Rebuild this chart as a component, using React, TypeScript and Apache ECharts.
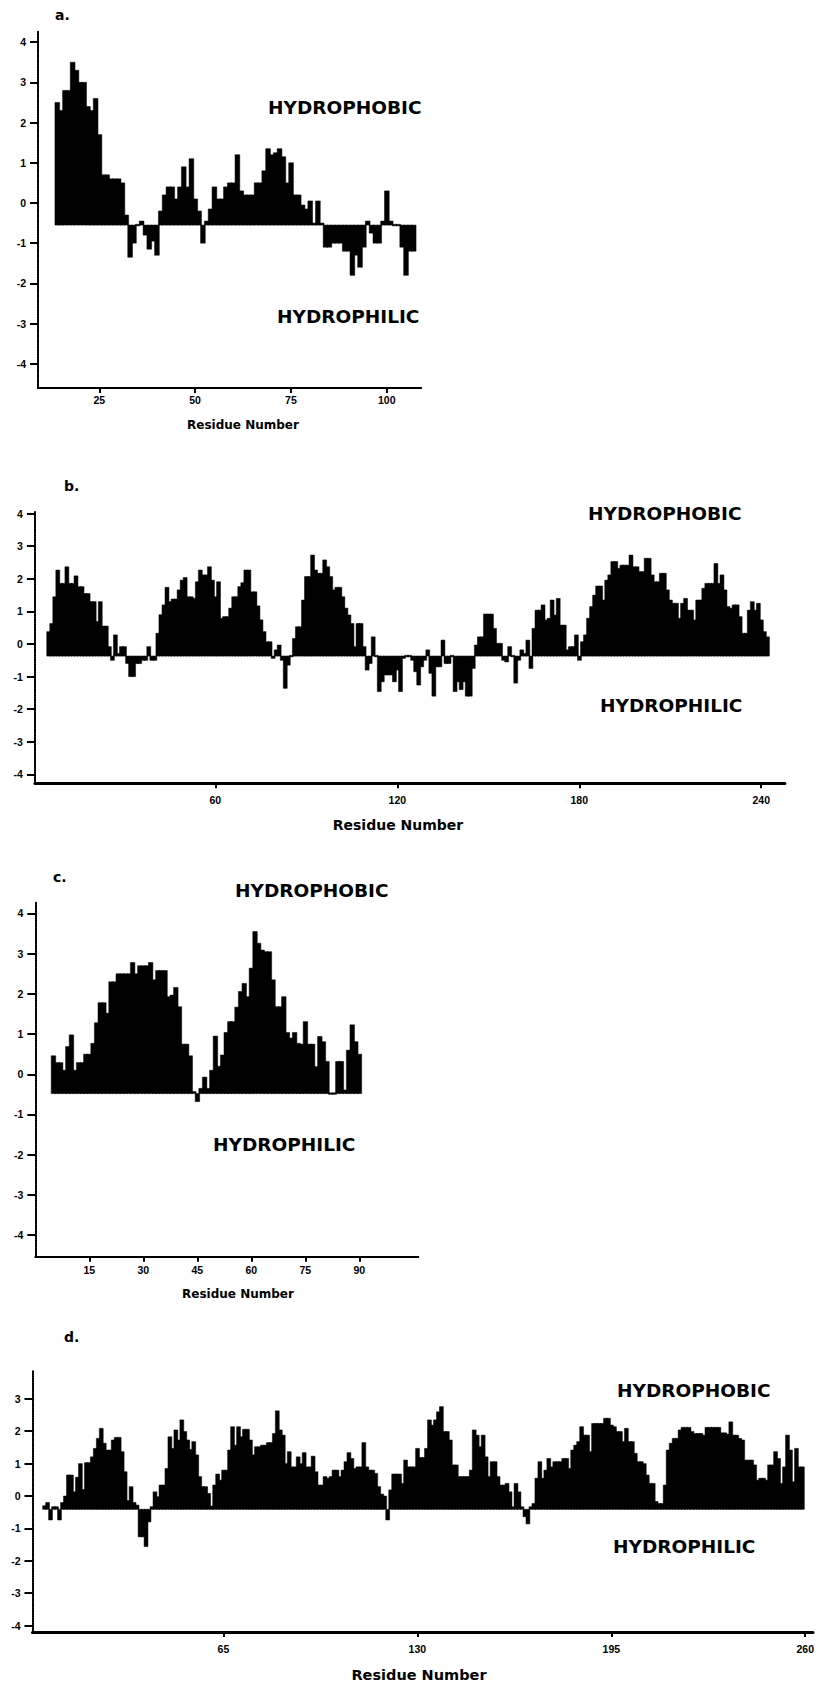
import React, { useEffect, useRef } from 'react';
import * as echarts from 'echarts';

// ---------- data (hydropathy values per residue) ----------
const aStart = 14;
const aValues = [
  2.5, 2.3, 2.8, 2.8, 3.5, 3.3, 3.0, 3.0, 2.4, 2.3, 2.6, 1.7, 0.7, 0.7, 0.6, 0.6, 0.6, 0.5, -0.3, -1.35,
  -1.0, -0.55, -0.45, -0.8, -1.15, -0.95, -1.3, -0.2, 0.2, 0.4, 0.4, 0.1, 0.4, 0.9, 0.4, 1.1, 0.1, -0.2, -1.0, -0.45,
  -0.15, 0.4, 0.1, 0.1, 0.4, 0.5, 0.5, 1.2, 0.3, 0.2, 0.2, 0.2, 0.5, 0.5, 0.8, 1.35, 1.2, 1.25, 1.35, 1.15,
  0.5, 1.0, 0.2, 0.2, -0.05, -0.15, 0.05, -0.5, 0.05, -0.5, -1.1, -1.1, -1.0, -1.0, -1.0, -1.2, -1.2, -1.8, -1.3, -1.6,
  -1.1, -0.45, -0.75, -1.0, -1.0, -0.45, 0.3, -0.45, -0.55, -0.55, -1.1, -1.8, -1.2, -1.2,
];
const aBaseline = -0.55;

const bStart = 5;
const bValues = [
  0.38, 0.63, 1.45, 2.27, 1.86, 1.86, 2.37, 1.86, 1.86, 2.09, 1.76, 1.76, 1.55, 1.55, 1.3, 1.3, 0.69, 1.3, 0.55, 0.55,
  -0.08, -0.5, 0.28, -0.29, -0.08, -0.08, -0.6, -1.0, -1.0, -0.6, -0.6, -0.5, -0.5, -0.08, -0.5, -0.5, 0.33, 0.9, 1.2, 1.74,
  1.3, 1.38, 1.38, 1.66, 1.96, 2.04, 1.45, 1.45, 1.4, 1.91, 2.27, 2.12, 2.12, 2.37, 1.96, 1.45, 1.91, 0.79, 0.84, 0.84,
  1.1, 1.45, 1.45, 1.76, 1.88, 2.27, 2.27, 1.6, 1.6, 1.17, 0.74, 0.38, 0.07, 0.07, -0.44, -0.18, -0.03, -0.5, -1.36, -0.65,
  -0.39, 0.17, 0.53, 0.53, 1.35, 2.07, 2.07, 2.73, 2.27, 2.17, 2.17, 2.58, 2.37, 2.07, 1.66, 1.74, 1.74, 1.45, 1.1, 0.89,
  0.63, -0.08, 0.63, 0.63, -0.08, -0.8, -0.6, 0.22, -0.39, -1.46, -1.16, -0.95, -0.95, -0.95, -1.16, -0.8, -1.46, -0.44, -0.39, -0.39,
  -0.5, -0.85, -1.26, -0.7, -0.5, -0.18, -0.9, -1.6, -0.7, -0.7, 0.12, -0.6, -0.6, -0.39, -1.46, -1.16, -1.4, -1.16, -1.6, -1.6,
  -0.75, -0.03, 0.22, 0.22, 0.92, 0.92, 0.92, 0.48, 0.02, 0.02, -0.5, -0.55, -0.08, -0.39, -1.2, -0.5, -0.18, -0.29, 0.12, -0.75,
  0.48, 1.04, 1.04, 1.2, 0.74, 0.79, 1.35, 0.89, 1.4, 0.58, 0.58, -0.18, -0.08, -0.08, 0.28, -0.5, 0.07, 0.28, 0.79, 1.15,
  1.5, 1.78, 1.78, 1.35, 1.96, 2.12, 2.53, 2.53, 2.32, 2.42, 2.42, 2.42, 2.73, 2.37, 2.37, 2.22, 2.22, 2.63, 2.63, 2.12,
  1.91, 1.91, 2.17, 2.17, 1.66, 1.35, 1.25, 1.25, 0.79, 1.25, 1.4, 1.04, 1.04, 0.74, 1.35, 1.35, 1.71, 1.86, 1.86, 1.86,
  2.47, 1.86, 2.12, 1.66, 1.15, 1.1, 1.2, 1.2, 0.84, 0.33, 0.33, 1.04, 1.3, 1.04, 1.25, 0.74, 0.38, 0.22,
];
const bBaseline = -0.37;

const cStart = 5;
const cValues = [
  0.46, 0.29, 0.29, 0.1, 0.69, 0.98, 0.1, 0.29, 0.29, 0.5, 0.5, 0.77, 1.28, 1.78, 1.78, 1.52, 2.3, 2.3, 2.5, 2.5,
  2.5, 2.5, 2.78, 2.5, 2.7, 2.7, 2.7, 2.78, 2.35, 2.58, 2.58, 2.58, 1.93, 1.97, 2.16, 1.68, 0.75, 0.75, 0.46, -0.43,
  -0.68, -0.35, -0.07, -0.35, 0.1, 0.95, 0.2, 0.48, 1.04, 1.31, 1.31, 1.67, 2.06, 2.26, 1.93, 2.64, 3.55, 3.26, 3.09, 3.05,
  3.05, 2.35, 1.68, 1.68, 1.93, 1.04, 0.9, 1.04, 0.77, 0.75, 1.31, 0.75, 0.75, 0.19, 0.94, 0.81, 0.32, -0.47, -0.5, 0.32,
  0.32, -0.39, 0.6, 1.23, 0.81, 0.5,
];
const cBaseline = -0.48;

const dStart = 5;
const dValues = [
  -0.3, -0.2, -0.74, -0.33, -0.33, -0.74, -0.2, 0, 0.65, 0.65, 0.13, 0.58, 1.0, 0.2, 1.03, 1.03, 1.21, 1.47, 1.78, 2.09,
  1.63, 1.42, 1.42, 1.73, 1.81, 1.81, 1.37, 0.75, -0.14, 0.29, -0.2, -0.28, -1.26, -1.26, -1.56, -0.8, -0.33, 0.13, -0.02, 0.34,
  0.34, 0.85, 1.83, 1.47, 2.04, 1.73, 2.35, 1.99, 1.73, 1.44, 1.68, 1.27, 0.6, 0.29, 0.29, 0.08, -0.31, 0.34, 0.68, 0.49,
  0.8, 0.8, 1.42, 2.14, 1.57, 2.14, 1.83, 2.06, 2.06, 1.73, 1.27, 1.52, 1.52, 1.57, 1.57, 1.65, 1.65, 1.93, 2.63, 2.04,
  1.88, 1.0, 1.37, 0.9, 0.9, 1.21, 1.0, 1.34, 0.9, 0.9, 1.23, 0.75, 0.34, 0.34, 0.6, 0.55, 0.6, 0.8, 0.8, 0.6,
  0.8, 1.06, 1.34, 1.16, 0.85, 0.9, 0.9, 1.65, 0.9, 0.8, 0.8, 0.7, 0.29, 0.06, 0, -0.74, 0.19, 0.68, 0.68, 0.68,
  0.39, 1.11, 0.9, 0.9, 0.9, 1.47, 1.19, 1.19, 1.47, 2.35, 2.19, 2.35, 2.6, 2.76, 1.99, 1.99, 1.73, 0.96, 0.96, 0.6,
  0.6, 0.6, 0.6, 0.8, 2.04, 1.88, 1.52, 1.88, 1.21, 0.6, 1.06, 1.06, 0.6, 0.34, 0.34, 0.39, 0.13, -0.33, 0.39, 0.13,
  -0.33, -0.64, -0.86, -0.33, -0.23, 0.55, 1.06, 0.55, 0.8, 1.16, 0.9, 1.06, 1.06, 1.06, 1.16, 1.16, 0.85, 1.42, 1.57, 1.68,
  2.14, 1.88, 1.88, 1.37, 2.24, 2.24, 2.24, 2.24, 2.4, 2.4, 2.19, 2.14, 1.99, 1.99, 1.68, 2.09, 1.68, 1.68, 1.32, 1.06,
  1.06, 1.0, 0.65, 0.39, 0.39, -0.17, -0.23, -0.23, 0.34, 1.42, 1.63, 1.78, 1.78, 2.04, 2.12, 2.12, 2.12, 1.99, 1.93, 1.93,
  1.93, 1.88, 2.12, 2.12, 2.12, 2.12, 2.12, 1.95, 1.95, 1.91, 2.29, 1.88, 1.88, 1.78, 1.73, 1.11, 1.11, 1.11, 0.96, 0.49,
  0.55, 0.55, 0.49, 0.96, 0.96, 1.37, 1.16, 0.39, 0.9, 1.88, 1.42, 0.44, 1.47, 0.9, 0.9,
];
const dBaseline = -0.41;

const aXTicks = [25, 50, 75, 100];
const bXTicks = [60, 120, 180, 240];
const cXTicks = [15, 30, 45, 60, 75, 90];
const dXTicks = [65, 130, 195, 260];
const yTicksFull = [-4, -3, -2, -1, 0, 1, 2, 3, 4];
const yTicksD = [-4, -3, -2, -1, 0, 1, 2, 3];

const panelLetters = ['a.', 'b.', 'c.', 'd.'];
const upperText = 'HYDROPHOBIC';
const lowerText = 'HYDROPHILIC';
const xAxisTitle = 'Residue Number';

// ---------- layout ----------
const panels = [
  {
    start: aStart, values: aValues, base: aBaseline, xTicks: aXTicks, yTicks: yTicksFull,
    xMin: 9, xMax: 109, yMin: -4.6, yMax: 4.26,
    grid: { left: 38, top: 31.7, width: 383.2, height: 356.2 },
    xLineWidth: 2, xLabelMargin: 7,
    letter: [55, 15], up: [268, 107], down: [277, 316], name: [243, 425], nameSize: 12,
  },
  {
    start: bStart, values: bValues, base: bBaseline, xTicks: bXTicks, yTicks: yTicksFull,
    xMin: 0.5, xMax: 247.8, yMin: -4.27, yMax: 4.05,
    grid: { left: 34.9, top: 512.0, width: 750, height: 271.2 },
    xLineWidth: 3, xLabelMargin: 11,
    letter: [64, 486], up: [588, 513], down: [600, 705], name: [398, 825], nameSize: 14,
  },
  {
    start: cStart, values: cValues, base: cBaseline, xTicks: cXTicks, yTicks: yTicksFull,
    xMin: 0, xMax: 106.4, yMin: -4.54, yMax: 4.27,
    grid: { left: 35.3, top: 902.6, width: 383, height: 354.2 },
    xLineWidth: 2, xLabelMargin: 8,
    letter: [53, 877], up: [235, 890], down: [213, 1144], name: [238, 1294], nameSize: 12,
  },
  {
    start: dStart, values: dValues, base: dBaseline, xTicks: dXTicks, yTicks: yTicksD,
    xMin: 1, xMax: 262.6, yMin: -4.2, yMax: 3.85,
    grid: { left: 32.5, top: 1371.3, width: 784, height: 260.8 },
    xLineWidth: 3, xLabelMargin: 11,
    letter: [64, 1337], up: [617, 1390], down: [613, 1546], name: [419, 1675], nameSize: 14.5,
  },
];

const LABEL_FONT = 'Liberation Sans';
const TITLE_FONT = 'DejaVu Sans';

function makeRender(base: number) {
  return (_params: any, api: any) => {
    const x = api.value(0) as number;
    const v = api.value(1) as number;
    const p0 = api.coord([x - 0.5, base]);
    const p1 = api.coord([x + 0.5, v]);
    const left = p0[0] - 0.3;
    const w = p1[0] - p0[0] + 0.9;
    let top = Math.min(p0[1], p1[1]);
    let h = Math.abs(p1[1] - p0[1]);
    if (h < 1.5) {
      h = 1.5;
      top = p0[1] - 0.75;
    }
    return {
      type: 'rect',
      shape: { x: left, y: top, width: w, height: h },
      style: { fill: '#000', stroke: '#000', lineWidth: 0.5 },
    };
  };
}

export default function App() {
  const ref = useRef<HTMLDivElement>(null);

  useEffect(() => {
    if (!ref.current) return;
    const chart = echarts.init(ref.current, undefined, { renderer: 'svg' });

    const grids: any[] = [];
    const xAxes: any[] = [];
    const yAxes: any[] = [];
    const series: any[] = [];
    const graphics: any[] = [];

    panels.forEach((p, i) => {
      grids.push({ ...p.grid, containLabel: false });
      xAxes.push({
        gridIndex: i,
        type: 'value',
        min: p.xMin,
        max: p.xMax,
        splitLine: { show: false },
        axisLine: { show: true, onZero: false, lineStyle: { color: '#000', width: p.xLineWidth } },
        axisTick: { show: true, length: 5, customValues: p.xTicks, lineStyle: { color: '#000', width: 2 } },
        axisLabel: {
          customValues: p.xTicks,
          color: '#000',
          fontFamily: LABEL_FONT,
          fontWeight: 'bold',
          fontSize: 10.5,
          margin: p.xLabelMargin,
        },
      });
      yAxes.push({
        gridIndex: i,
        type: 'value',
        min: p.yMin,
        max: p.yMax,
        splitLine: { show: false },
        axisLine: { show: true, onZero: false, lineStyle: { color: '#000', width: 2, type: [1.5, 1] } },
        axisTick: { show: true, length: 8, customValues: p.yTicks, lineStyle: { color: '#000', width: 2 } },
        axisLabel: {
          customValues: p.yTicks,
          color: '#000',
          fontFamily: LABEL_FONT,
          fontWeight: 'bold',
          fontSize: 10.5,
          margin: 12,
        },
      });
      series.push({
        type: 'custom',
        xAxisIndex: i,
        yAxisIndex: i,
        coordinateSystem: 'cartesian2d',
        renderItem: makeRender(p.base),
        encode: { x: 0, y: 1 },
        data: p.values.map((v, k) => [p.start + k, v]),
        silent: true,
      });

      graphics.push({
        type: 'text', x: p.letter[0], y: p.letter[1],
        style: { text: panelLetters[i], fill: '#000', font: `bold 14px "${TITLE_FONT}"`, align: 'left', verticalAlign: 'middle' },
      });
      graphics.push({
        type: 'text', x: p.up[0], y: p.up[1],
        style: { text: upperText, fill: '#000', font: `bold 18.5px "${TITLE_FONT}"`, align: 'left', verticalAlign: 'middle' },
      });
      graphics.push({
        type: 'text', x: p.down[0], y: p.down[1],
        style: { text: lowerText, fill: '#000', font: `bold 18.5px "${TITLE_FONT}"`, align: 'left', verticalAlign: 'middle' },
      });
      graphics.push({
        type: 'text', x: p.name[0], y: p.name[1],
        style: { text: xAxisTitle, fill: '#000', font: `bold ${p.nameSize}px "${TITLE_FONT}"`, align: 'center', verticalAlign: 'middle' },
      });
    });

    chart.setOption({
      animation: false,
      backgroundColor: '#fff',
      grid: grids,
      xAxis: xAxes,
      yAxis: yAxes,
      series,
      graphic: graphics,
    });

    return () => {
      chart.dispose();
    };
  }, []);

  return (
    <div
      ref={ref}
      style={{ position: 'absolute', left: 0, top: 0, width: 817, height: 1685, background: '#fff' }}
    />
  );
}
